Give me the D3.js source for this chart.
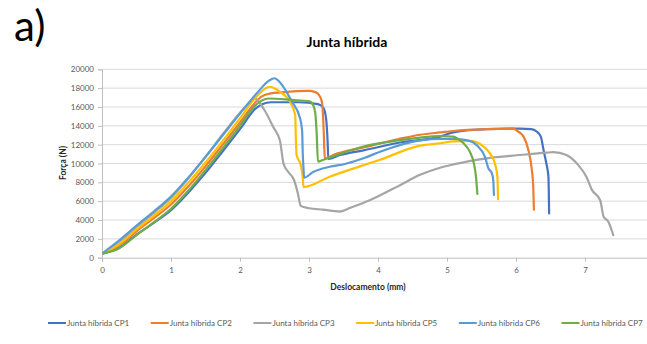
<!DOCTYPE html>
<html>
<head>
<meta charset="utf-8">
<script src="https://cdn.jsdelivr.net/npm/d3@7"></script>
<style>
  html, body { margin: 0; padding: 0; background: #ffffff; }
  svg { display: block; }
  text { font-family: Lato, "Open Sans", "Liberation Sans", sans-serif; }
</style>
</head>
<body>
<svg id="chart" width="647" height="344"></svg>
<script>
// Force–displacement curves of the hybrid joint specimens: [displacement (mm), force (N)]
const seriesNames = ["Junta híbrida CP1", "Junta híbrida CP2", "Junta híbrida CP3",
                     "Junta híbrida CP5", "Junta híbrida CP6", "Junta híbrida CP7"];
const seriesColors = ["#4472C4", "#ED7D31", "#A5A5A5", "#FFC000", "#5B9BD5", "#70AD47"];

const cp1 = [[0.02,450],[0.25,1050],[0.5,2450],[0.75,3700],[1.0,5050],[1.25,6900],[1.5,9000],
  [1.75,11300],[2.0,13650],[2.22,15800],[2.32,16300],[2.45,16500],[2.85,16500],
  [3.13,16300],[3.21,15900],[3.25,14600],[3.27,12300],[3.28,10500],[3.45,10900],[3.79,11400],
  [4.30,12200],[4.90,12850],[5.09,13300],[5.58,13650],[6.06,13700],[6.22,13650],[6.30,13400],
  [6.36,12850],[6.40,11400],[6.44,10000],[6.47,8600],[6.48,4700]];

const cp2 = [[0.02,500],[0.25,1300],[0.5,2800],[0.75,4200],[1.0,5650],[1.25,7550],[1.5,9700],
  [1.75,12000],[2.0,14350],[2.2,16300],[2.31,17100],[2.45,17450],[2.60,17550],
  [2.99,17700],[3.10,17550],[3.16,17100],[3.19,16400],[3.21,14000],[3.22,12000],[3.23,10500],
  [3.35,10900],[3.79,11700],[4.30,12600],[4.61,13050],[4.90,13300],[5.09,13450],[5.58,13650],
  [5.96,13700],[6.01,13500],[6.11,12850],[6.18,11400],[6.23,9300],[6.25,7500],[6.26,5100]];

const cp3 = [[0.02,500],[0.25,1700],[0.5,3250],[0.75,4750],[1.0,6350],[1.25,8400],[1.5,10700],
  [1.75,13100],[2.0,15400],[2.16,16600],[2.22,16850],[2.36,15600],[2.48,13900],
  [2.58,12400],[2.63,10000],[2.70,9100],[2.78,8300],[2.84,6800],[2.88,5500],[3.00,5250],
  [3.20,5100],[3.45,4900],[3.60,5300],[3.88,6100],[4.32,7700],[4.61,8800],[4.90,9550],
  [5.09,9900],[5.58,10550],[6.06,10900],[6.44,11150],[6.54,11200],[6.73,10900],[6.90,9850],
  [7.02,8600],[7.10,7200],[7.22,6100],[7.27,4350],[7.34,3800],[7.41,2400]];

const cp5 = [[0.02,500],[0.25,1450],[0.5,3000],[0.75,4450],[1.0,6000],[1.25,7950],[1.5,10100],
  [1.75,12400],[2.0,14800],[2.25,17200],[2.43,18150],[2.52,17900],
  [2.58,17600],[2.72,16600],[2.80,15150],[2.81,12500],[2.82,10900],[2.88,9850],[2.91,8500],
  [2.92,7500],[3.30,8600],[4.03,10400],[4.61,11900],[4.90,12150],[5.09,12350],[5.33,12400],
  [5.53,11800],[5.62,11100],[5.70,9850],[5.73,8600],[5.74,6200]];

const cp6 = [[0.02,550],[0.25,1850],[0.5,3400],[0.75,4900],[1.0,6500],[1.25,8500],[1.5,10700],
  [1.75,13000],[2.0,15300],[2.25,17500],[2.42,18800],[2.50,19050],[2.58,18600],
  [2.75,16600],[2.87,14800],[2.90,13500],[2.91,11000],[2.92,9500],[2.93,8500],[3.06,9100],
  [3.30,9650],[3.52,9950],[3.79,10550],[4.03,11250],[4.61,12450],[4.90,12600],[5.09,12600],
  [5.30,12450],[5.43,11950],[5.55,10700],[5.60,9500],[5.65,8950],[5.67,8250],[5.68,6650]];

const cp7 = [[0.02,450],[0.25,1000],[0.5,2400],[0.75,3750],[1.0,5200],[1.25,7100],[1.5,9300],
  [1.75,11600],[2.0,14000],[2.2,16000],[2.32,16700],[2.41,16900],[2.75,16750],
  [3.01,16600],[3.06,16200],[3.09,15400],[3.11,13400],[3.13,10200],[3.21,10400],[3.79,11800],
  [4.30,12450],[4.61,12750],[4.90,12900],[5.09,12850],[5.14,12700],[5.24,12150],[5.33,11260],
  [5.39,10000],[5.42,8600],[5.44,6760]];

const seriesData = [cp1, cp2, cp3, cp5, cp6, cp7];

const xTicks = [0, 1, 2, 3, 4, 5, 6, 7];
const yTicks = [0, 2000, 4000, 6000, 8000, 10000, 12000, 14000, 16000, 18000, 20000];

const svg = d3.select("#chart");

const x = d3.scaleLinear().domain([0, 8]).range([102, 654]);
const y = d3.scaleLinear().domain([0, 20000]).range([257.7, 69.3]);

// panel letter
svg.append("text")
  .attr("x", 14).attr("y", 41)
  .attr("font-size", 42).attr("fill", "#000")
  .text("a)");

// chart title
svg.append("text")
  .attr("x", 347).attr("y", 47)
  .attr("text-anchor", "middle")
  .attr("font-size", 14).attr("font-weight", "bold").attr("fill", "#000")
  .text("Junta híbrida");

// horizontal gridlines
svg.append("g")
  .selectAll("line")
  .data(yTicks.filter(d => d > 0))
  .join("line")
  .attr("x1", x(0)).attr("x2", x(8))
  .attr("y1", d => y(d)).attr("y2", d => y(d))
  .attr("stroke", "#d9d9d9").attr("stroke-width", 1);

// y axis
const yAxis = svg.append("g")
  .attr("transform", `translate(${x(0)},0)`)
  .call(d3.axisLeft(y).tickValues(yTicks).tickSize(4).tickPadding(4).tickFormat(d3.format("d")));
yAxis.select(".domain").attr("stroke", "#bfbfbf");
yAxis.selectAll(".tick line").attr("stroke", "#bfbfbf");
yAxis.selectAll(".tick text")
  .attr("font-size", 8).attr("fill", "#595959")
  .attr("font-family", "Lato, 'Open Sans', sans-serif");

// x axis
const xAxis = svg.append("g")
  .attr("transform", `translate(0,${y(0)})`)
  .call(d3.axisBottom(x).tickValues(xTicks).tickSize(4).tickPadding(6).tickFormat(d3.format("d")));
xAxis.select(".domain").attr("stroke", "#bfbfbf");
xAxis.selectAll(".tick line").attr("stroke", "#bfbfbf");
xAxis.selectAll(".tick text")
  .attr("font-size", 8).attr("fill", "#595959")
  .attr("font-family", "Lato, 'Open Sans', sans-serif");

// axis titles
svg.append("text")
  .attr("x", 368).attr("y", 290)
  .attr("text-anchor", "middle")
  .attr("font-size", 8.5).attr("font-weight", "bold").attr("fill", "#262626")
  .text("Deslocamento (mm)");

svg.append("text")
  .attr("transform", "translate(66,163) rotate(-90)")
  .attr("text-anchor", "middle")
  .attr("font-size", 8.5).attr("font-weight", "bold").attr("fill", "#262626")
  .text("Força (N)");

// curves
const line = d3.line()
  .x(d => x(d[0]))
  .y(d => y(d[1]))
  .curve(d3.curveMonotoneX);

svg.append("g")
  .selectAll("path")
  .data(seriesData)
  .join("path")
  .attr("d", line)
  .attr("fill", "none")
  .attr("stroke", (d, i) => seriesColors[i])
  .attr("stroke-width", 2.2)
  .attr("stroke-linejoin", "round")
  .attr("stroke-linecap", "round");

// legend
const legend = svg.append("g")
  .selectAll("g")
  .data(seriesNames)
  .join("g")
  .attr("transform", (d, i) => `translate(${48 + i * 102.7},323)`);

legend.append("line")
  .attr("x1", 0).attr("x2", 18)
  .attr("y1", 0).attr("y2", 0)
  .attr("stroke", (d, i) => seriesColors[i])
  .attr("stroke-width", 2);

legend.append("text")
  .attr("x", 19).attr("y", 0).attr("dy", "0.33em")
  .attr("font-size", 8).attr("fill", "#595959")
  .text(d => d);
</script>
</body>
</html>
